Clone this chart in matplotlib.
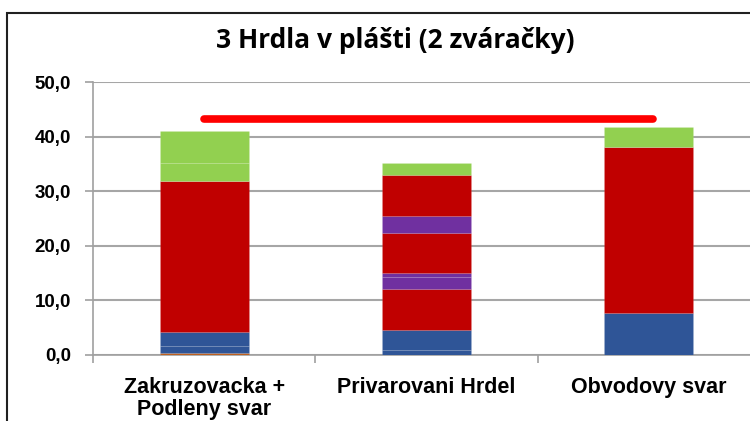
import matplotlib.pyplot as plt
from matplotlib.patches import Rectangle

categories = ["Zakruzovacka +\nPodleny svar", "Privarovani Hrdel", "Obvodovy svar"]

# stacked segments, bottom to top
seg_orange = [0.3, 0.0, 0.0]
seg_blue1 = [1.3, 0.9, 7.7]
seg_blue2 = [2.7, 3.6, 0.0]
seg_red1 = [27.6, 7.6, 30.4]
seg_purple1 = [0.0, 2.1, 0.0]
seg_purple2 = [0.0, 0.8, 0.0]
seg_red2 = [0.0, 7.4, 0.0]
seg_purple3 = [0.0, 3.1, 0.0]
seg_red3 = [0.0, 7.4, 0.0]
seg_green1 = [3.3, 2.3, 3.6]
seg_green2 = [5.9, 0.0, 0.0]

target_value = 43.3
y_ticks = [0, 10, 20, 30, 40, 50]

orange = "#c0601e"
blue = "#2f5597"
red = "#c00000"
purple = "#7030a0"
green = "#92d050"

segments = [
    (seg_orange, orange), (seg_blue1, blue), (seg_blue2, blue),
    (seg_red1, red), (seg_purple1, purple), (seg_purple2, purple),
    (seg_red2, red), (seg_purple3, purple), (seg_red3, red),
    (seg_green1, green), (seg_green2, green),
]

fig = plt.figure(figsize=(7.5, 4.21), dpi=100)
ax = fig.add_axes([93 / 750, 66 / 421, 667 / 750, 273 / 421])

x = list(range(len(categories)))
bottom = [0.0] * len(categories)
for vals, col in segments:
    ax.bar(x, vals, width=0.4, bottom=bottom, color=col,
           edgecolor=(1, 1, 1, 0.08), linewidth=0.6, zorder=3)
    bottom = [b + v for b, v in zip(bottom, vals)]

ax.plot([0, 2.02], [target_value, target_value], color="#ff0000", lw=5.5,
        solid_capstyle="round", zorder=4)

ax.set_xlim(-0.5, 2.5)
ax.set_ylim(0, 50)
ax.set_yticks(y_ticks)
ax.set_yticklabels([f"{v:.1f}".replace(".", ",") for v in y_ticks],
                   fontsize=13.5, fontweight="bold", family="Liberation Sans")
ax.set_xticks([-0.5, 0.5, 1.5, 2.5], minor=False)
ax.set_xticklabels([])
ax.set_xticks(x, minor=True)
ax.set_xticklabels(categories, minor=True, fontsize=15.5, fontweight="bold",
                   family="Liberation Sans", linespacing=1.05)
ax.tick_params(axis="x", which="minor", length=0, pad=16)
ax.tick_params(axis="x", which="major", length=6, color="#a0a0a0", width=1.2)
ax.tick_params(axis="y", length=6, color="#a0a0a0", width=1.2, pad=10)

ax.grid(axis="y", color="#a6a6a6", lw=1.5, zorder=0)
for s in ["top", "right"]:
    ax.spines[s].set_visible(False)
for s in ["left", "bottom"]:
    ax.spines[s].set_color("#a0a0a0")
    ax.spines[s].set_linewidth(1.2)

fig.text(0.527, 0.903, "3 Hrdla v plášti (2 zváračky)", ha="center", va="center",
         fontsize=19, fontweight="bold", family="Open Sans")

# outer chart frame (cut by the image on the right and bottom)
frame_top = 1 - 13 / 421
fig.patches.append(Rectangle((7 / 750, -0.1), 1.1, frame_top + 0.1,
                             transform=fig.transFigure, fill=False,
                             edgecolor="#202020", lw=1.5))

fig.savefig("out.png", dpi=100)
